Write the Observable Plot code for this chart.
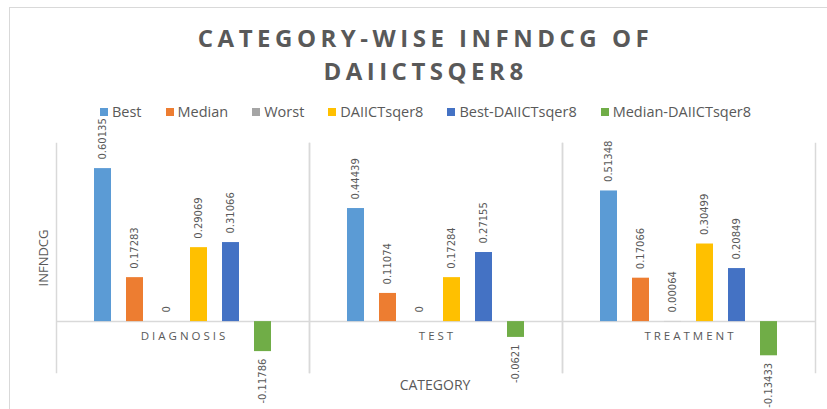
<!DOCTYPE html>
<html><head><meta charset="utf-8">
<script src="https://cdn.jsdelivr.net/npm/d3@7"></script>
<script src="https://cdn.jsdelivr.net/npm/@observablehq/plot@0.6"></script>
<style>
body{margin:0;background:#fff;}
#wrap{position:relative;width:827px;height:409px;overflow:hidden;font-family:"Open Sans",sans-serif;color:#595959;}
#border{position:absolute;left:9px;top:7px;width:900px;height:500px;border:1.5px solid #d9d9d9;box-sizing:border-box;}
#chart{position:absolute;left:0;top:0;}
#title{position:absolute;left:12px;width:827px;top:21px;text-align:center;font-weight:700;font-size:24px;letter-spacing:4.5px;line-height:33px;color:#595959;}
#legend{position:absolute;left:12px;width:827px;top:102px;display:flex;justify-content:center;gap:24px;font-size:14.5px;line-height:20px;}
#legend .it{display:flex;align-items:center;gap:4px;}
#legend .sw{width:8px;height:8px;display:inline-block;}
#ytitle{position:absolute;left:43px;top:258px;transform:translate(-50%,-50%) rotate(-90deg);font-size:13px;white-space:nowrap;}
#xtitle{position:absolute;left:435px;top:384px;transform:translate(-50%,-50%);font-size:14px;white-space:nowrap;}
</style></head>
<body>
<div id="wrap">
  <div id="border"></div>
  <div id="chart"></div>
  <div id="title">CATEGORY-WISE INFNDCG OF<br>DAIICTSQER8</div>
  <div id="legend"></div>
  <div id="ytitle">INFNDCG</div>
  <div id="xtitle">CATEGORY</div>
</div>
<script>
const categories = ["Diagnosis", "Test", "Treatment"];
const series = ["Best", "Median", "Worst", "DAIICTsqer8", "Best-DAIICTsqer8", "Median-DAIICTsqer8"];
const colors = ["#5B9BD5", "#ED7D31", "#A5A5A5", "#FFC000", "#4472C4", "#70AD47"];
const best = [0.60135, 0.44439, 0.51348];
const median = [0.17283, 0.11074, 0.17066];
const worst = [0, 0, 0.00064];
const daiict = [0.29069, 0.17284, 0.30499];
const bestMinusDaiict = [0.31066, 0.27155, 0.20849];
const medianMinusDaiict = [-0.11786, -0.0621, -0.13433];
const seriesValues = [best, median, worst, daiict, bestMinusDaiict, medianMinusDaiict];

const data = categories.flatMap((c, i) => series.map((s, j) => ({category: c, series: s, value: seriesValues[j][i]})));

const chart = Plot.plot({
  width: 827, height: 409,
  marginLeft: 56, marginRight: 12, marginTop: 143, marginBottom: 37,
  fx: {domain: categories, padding: 0, axis: null},
  x: {domain: series, paddingInner: 0.47, paddingOuter: 1.16, axis: null},
  y: {domain: [-0.2, 0.7], axis: null},
  color: {domain: series, range: colors},
  style: {fontFamily: "DejaVu Sans", fontSize: "10px", color: "#595959", background: "transparent"},
  marks: [
    Plot.frame({anchor: "left", stroke: "#d9d9d9", strokeWidth: 1.5, strokeOpacity: 1}),
    Plot.frame({anchor: "right", stroke: "#d9d9d9", strokeWidth: 1.5, strokeOpacity: 1}),
    Plot.ruleY([0], {stroke: "#d9d9d9", strokeWidth: 1.5}),
    Plot.barY(data, {fx: "category", x: "series", y: "value", fill: "series"}),
    Plot.text(data.filter(d => d.value >= 0), {fx: "category", x: "series", y: "value", text: d => String(d.value), rotate: -90, textAnchor: "start", dy: -9, fill: "#595959"}),
    Plot.text(data.filter(d => d.value < 0), {fx: "category", x: "series", y: "value", text: d => String(d.value), rotate: -90, textAnchor: "end", dy: 7, fill: "#595959"}),
    Plot.text(categories, {fx: d => d, y: () => 0, text: d => d.toUpperCase(), dy: 15, dx: 1.5, fill: "#595959", fontSize: 11.5, fontFamily: "Open Sans"})
  ]
});
const upper = new Set(categories.map(c => c.toUpperCase()));
chart.querySelectorAll("text").forEach(t => { if (upper.has(t.textContent)) t.style.letterSpacing = "3px"; });
document.getElementById("chart").appendChild(chart);

const legend = d3.select("#legend");
series.forEach((s, i) => {
  const it = legend.append("div").attr("class", "it");
  it.append("span").attr("class", "sw").style("background", colors[i]);
  it.append("span").text(s);
});
</script>
</body></html>
